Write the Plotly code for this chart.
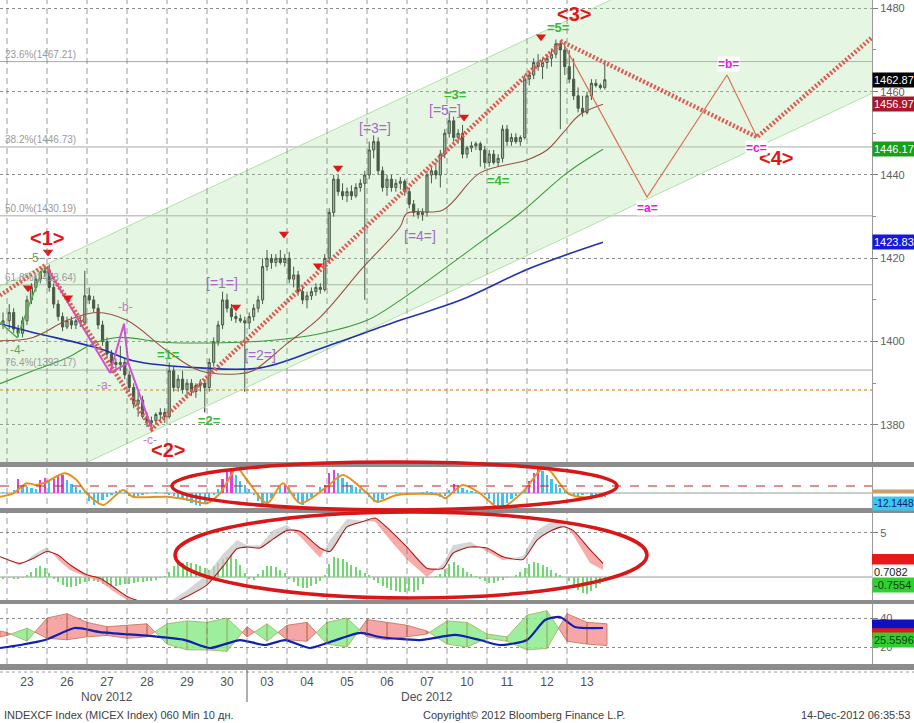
import plotly.graph_objects as go

W, H = 914, 723
MR, MB = 42, 53
PW, PH = W - MR, H - MB  # plot area 872 x 670


def pyp(py):
    return 1 - py / PH


def pxp(px):
    return px / PW


FONT = "Liberation Sans, Arial, sans-serif"

# ---------------- categories / ticks ----------------
day_labels = ["23", "26", "27", "28", "29", "30", "03", "04", "05", "06", "07", "10", "11", "12", "13"]
month_labels = ["Nov 2012", "Dec 2012"]
month_centers = [2.5, 10.5]
BPD = 9
x_range = [-0.175, 21.625]

# ---------------- hourly OHLC (first bar = last bar of 22 Nov) ----------------
o = [1404,
     1405, 1407, 1403, 1402, 1405, 1410, 1413, 1415, 1416.5,
     1417, 1413, 1409, 1406, 1403.5, 1405, 1404, 1405, 1404.5,
     1411, 1410, 1408, 1404, 1400, 1397, 1395, 1394.5, 1395,
     1392, 1389, 1385, 1386, 1382, 1380.5, 1381, 1382.5, 1383,
     1382, 1393, 1389, 1391, 1388.5, 1390, 1388, 1389.5, 1390,
     1389, 1395, 1400, 1404, 1410, 1408, 1406, 1405.5, 1405,
     1404.5, 1406, 1408, 1410, 1418, 1420, 1419, 1420, 1419,
     1420, 1415, 1416, 1412, 1410, 1411, 1412, 1413, 1412.5,
     1420, 1431, 1439, 1436, 1435, 1436, 1435, 1437, 1438,
     1440, 1446, 1448, 1441, 1437, 1439, 1437, 1438, 1438.5,
     1436, 1433, 1431, 1430.5, 1431, 1440, 1441, 1440, 1445,
     1450, 1453, 1449, 1450, 1445, 1446.5, 1447, 1447.5, 1446,
     1443, 1445, 1443, 1444, 1451, 1448, 1449, 1448, 1449,
     1463, 1464, 1467, 1466, 1467, 1468, 1469, 1471.5, 1470,
     1466, 1463, 1459, 1456, 1455, 1459, 1462, 1461.5, 1461]
h = [1407,
     1409, 1408, 1404, 1406, 1411, 1414, 1416, 1417, 1418,
     1418.5, 1414, 1410, 1407, 1406, 1406, 1405.5, 1406, 1417,
     1413, 1411, 1409, 1405, 1401, 1398, 1396, 1399, 1396,
     1393, 1390, 1388, 1387, 1383, 1382, 1383, 1384, 1384,
     1395, 1394, 1392, 1393, 1391, 1391, 1390, 1391, 1391,
     1396, 1401, 1405, 1412, 1411.5, 1409, 1407, 1406.5, 1406,
     1407, 1409, 1411, 1420, 1422, 1421, 1421, 1422, 1421,
     1421.5, 1418, 1417, 1413, 1412, 1413, 1414, 1414, 1421,
     1432, 1440, 1440, 1438, 1437, 1437.5, 1438, 1439, 1441,
     1448, 1449.5, 1449, 1442, 1440, 1440, 1439, 1439.5, 1439,
     1437, 1434, 1432, 1432, 1441, 1442, 1443, 1446, 1451,
     1455, 1454, 1451, 1452, 1447, 1448, 1448, 1448, 1447,
     1446, 1446, 1445, 1452, 1452, 1450, 1450, 1449.5, 1464,
     1465, 1468, 1469, 1468, 1469, 1470, 1472.5, 1472, 1471.5,
     1470, 1468, 1461, 1459, 1460, 1463, 1463, 1462, 1467]
l = [1403,
     1403, 1402, 1401, 1401, 1404, 1409, 1412, 1414, 1415.5,
     1412, 1408, 1405, 1402.5, 1403, 1403, 1403, 1403.5, 1404,
     1409, 1407, 1403, 1399, 1396, 1393.5, 1393.5, 1393, 1391,
     1388, 1384, 1382, 1381.5, 1379.5, 1379, 1380, 1381, 1380.5,
     1381.5, 1388, 1388, 1387.5, 1387, 1387, 1386.5, 1388, 1383,
     1388, 1394, 1399, 1403, 1407, 1405, 1404.5, 1404.5, 1388,
     1403, 1405, 1407, 1409, 1417, 1417.5, 1418, 1418.5, 1418,
     1414, 1413, 1411, 1409, 1408, 1410, 1411, 1411.5, 1412,
     1419, 1430, 1435, 1434, 1433.5, 1434, 1434.5, 1436, 1410,
     1439, 1444, 1440, 1436, 1435, 1436, 1436, 1436.5, 1435,
     1432, 1430, 1429.5, 1429, 1430, 1438, 1439, 1437, 1444,
     1449, 1448, 1447.5, 1444, 1444, 1445.5, 1446, 1442, 1441.5,
     1442, 1442.5, 1442, 1443, 1447, 1447, 1447.5, 1447, 1448.5,
     1461.5, 1463, 1465, 1463, 1465.5, 1466, 1468, 1451, 1464,
     1462, 1458, 1455, 1454, 1454.5, 1458, 1461, 1460.5, 1460.5]
c = [1405,
     1407, 1403, 1402, 1405, 1410, 1413, 1415, 1416.5, 1417,
     1413, 1409, 1406, 1403.5, 1405, 1404, 1405, 1404.5, 1411,
     1410, 1408, 1404, 1400, 1397, 1395, 1394.5, 1395, 1392,
     1389, 1385, 1386, 1382, 1380.5, 1381, 1382.5, 1383, 1382,
     1393, 1389, 1391, 1388.5, 1390, 1388, 1389.5, 1390, 1389,
     1395, 1400, 1404, 1410, 1408, 1406, 1405.5, 1405, 1404.5,
     1406, 1408, 1410, 1418, 1420, 1419, 1420, 1419, 1420,
     1415, 1416, 1412, 1410, 1411, 1412, 1413, 1412.5, 1420,
     1431, 1439, 1436, 1435, 1436, 1435, 1437, 1438, 1440,
     1446, 1448, 1441, 1437, 1439, 1437, 1438, 1438.5, 1436,
     1433, 1431, 1430.5, 1431, 1440, 1441, 1440, 1445, 1450,
     1453, 1449, 1450, 1445, 1446.5, 1447, 1447.5, 1446, 1443,
     1445, 1443, 1444, 1451, 1448, 1449, 1448, 1449, 1463,
     1464, 1467, 1466, 1467, 1468, 1469, 1471.5, 1470, 1466,
     1463, 1459, 1456, 1455, 1459, 1462, 1461.5, 1461, 1462.87]

# ---------------- moving averages (read at turning points) ----------------
ma_brown_x = [-0.175, 0.65, 1.5, 2.25, 3.0, 4.0, 4.825, 5.825, 6.15, 7.0, 7.825, 8.9, 9.825, 10.0, 10.9, 11.825, 13.0, 13.5, 13.9, 14.325, 14.9]
ma_brown_y = [1400.2, 1401.0, 1405.1, 1407.0, 1405.1, 1397.8, 1393.0, 1392.3, 1393.0, 1399.5, 1405.8, 1417.8, 1427.5, 1430.8, 1431.6, 1440.5, 1443.6, 1446.0, 1450.1, 1454.5, 1456.97]
ma_green_x = [-0.175, 0.65, 1.5, 2.15, 2.75, 4.0, 5.65, 6.5, 7.825, 9.0, 9.825, 11.9, 12.825, 14.0, 14.9]
ma_green_y = [1389.9, 1393.0, 1396.1, 1399.5, 1401.0, 1399.8, 1399.8, 1400.2, 1401.9, 1405.1, 1409.9, 1424.3, 1430.8, 1440.5, 1446.17]
ma_blue_x = [-0.175, 0.65, 2.325, 3.15, 4.825, 6.325, 7.825, 9.825, 11.325, 13.075, 14.9]
ma_blue_y = [1404.3, 1402.2, 1398.3, 1395.4, 1393.7, 1393.7, 1398.3, 1405.1, 1409.9, 1417.6, 1423.83]

# trend channel
chan_x = [-0.175, 21.625]
chan_upper = [1413.3, 1511.4]
chan_lower = [1361.2, 1459.6]

# Fibonacci retracement levels
fib_pct = ["23.6%", "38.2%", "50.0%", "61.8%", "76.4%"]
fib_lvl = [1467.21, 1446.73, 1430.19, 1413.64, 1393.17]
support_lvl = 1388.4

# Elliott wave paths
ew_x = [-0.175, 0.95, 3.625, 13.875, 18.75, 21.625]
ew_y = [1411.1, 1418.3, 1379.0, 1472.0, 1449.1, 1473.0]
proj_x = [13.95, 16.0, 18.0, 18.75]
proj_y = [1470.8, 1434.7, 1464.0, 1449.1]
mag_x = [1.0, 2.575, 2.925, 3.03, 3.625, None, 2.575, 3.03]
mag_y = [1417.8, 1392.5, 1404.3, 1394.9, 1379.0, None, 1392.5, 1394.9]
gw_x = [-0.175, 0.25, 0.9]
gw_y = [1404.6, 1401.0, 1417.6]

# sell-signal markers
sig_x = [0.525, 1.025, 1.525, 5.725, 6.925, 7.775, 8.275, 11.425, 13.35]
sig_y = [1412.9, 1421.5, 1410.5, 1408.3, 1425.8, 1418.2, 1441.7, 1453.9, 1473.2]

# wave labels
big_txt = ["<1>", "<2>", "<3>", "<4>"]
big_x = [1.0, 4.025, 14.175, 19.225]
big_y = [1424.9, 1374.0, 1478.7, 1444.1]
grn_txt = ["=1=", "=2=", "=3=", "=4=", "=5="]
grn_x = [4.025, 5.05, 11.2, 12.275, 13.775]
grn_y = [1396.8, 1381.0, 1459.2, 1438.6, 1475.3]
pur_txt = ["[=1=]", "[=2=]", "[=3=]", "[=4=]", "[=5=]"]
pur_x = [5.375, 6.325, 9.2, 10.325, 10.95]
pur_y = [1414.1, 1396.8, 1451.3, 1425.4, 1455.6]
abc_txt = ["=a=", "=b=", "=c="]
abc_x = [16.0, 18.025, 18.725]
abc_y = [1432.1, 1466.7, 1446.5]
sml_txt = ["-a-", "-b-", "-c-"]
sml_x = [2.425, 2.95, 3.575]
sml_y = [1389.6, 1408.3, 1376.4]
g45_txt = ["-5-", "-4-"]
g45_x = [0.7, 0.25]
g45_y = [1420.1, 1398.0]

# ---------------- panel 2 oscillator ----------------
osc_hist = [1,
            0, 3, 14, 8, 6, 5, 4, 13, 15,
            12, 14, 17, 18, 13, 9, 6, 3, 1,
            -8, -12, -10, -7, -4, -2, 2, 3, 1,
            -3, -5, -3, -2, -1, 0, 1, 0, -1,
            -2, -3, -4, -6, -8, -10, -12, -13, -10,
            -6, -2, 4, 14, 21, 23, 18, 12, 8,
            4, -2, -8, -12, -10, -5, 2, 7, 9,
            6, -3, -10, -12, -8, -4, 0, 6, 8,
            20, 23, 20, 15, 11, 8, 6, 4, 2,
            -4, -9, -10, -6, -2, 0, 1, -1, 0,
            0, -1, 0, 1, 2, 1, -2, -4, -3,
            3, 9, 8, 5, 3, 2, 1, 0, -2,
            -6, -11, -15, -14, -10, -6, -3, 0, 3,
            12, 20, 24, 22, 18, 14, 9, 5, 2,
            -2, -3, -4, -2, -1, -3, -2, -3, -4]
osc_line_x = [-0.175, 0.16, 0.49, 0.74, 0.99, 1.45, 1.74, 1.99, 2.4, 2.9, 3.15, 4.0, 4.575, 5.0, 5.325, 5.75, 6.0, 6.5, 6.9, 7.325, 8.0, 8.4, 9.0, 9.25, 9.75, 10.825, 10.95, 11.4, 11.825, 12.325, 12.9, 13.45, 14.025, 14.4, 14.9]
osc_line_y = [-3.7, -0.3, 9.7, 8, 11.3, 19.7, 13, -0.3, -12, 3, -3.7, -3.7, -7, -10.3, -0.3, 24.7, 13, -10.3, 9.7, -10.3, 6.3, 18, -0.3, -8.7, -2, -2, -5.3, 8, -0.3, -15.3, 1.3, 25.7, -0.3, -4.3, -3]
osc_level = 7

# ---------------- panel 3 MACD ----------------
macd_x = [-0.175, 0.325, 0.65, 1.0, 1.275, 1.575, 2.0, 2.325, 2.65, 3.0, 3.5, 4.0, 4.5, 5.0, 5.4, 5.75, 6.0, 6.325, 6.65, 7.0, 7.325, 7.825, 8.075, 8.5, 8.9, 9.2, 9.575, 10.0, 10.5, 10.9, 11.15, 11.575, 12.0, 12.4, 12.9, 13.25, 13.575, 13.9, 14.15, 14.575, 14.9]
macd_sig = [2.3, 1.55, 2.1, 2.9, 2.5, 1.4, 0.25, -0.15, -1.1, -2.2, -3.0, -3.2, -2.2, -0.9, 1.2, 3.2, 3.4, 3.3, 4.3, 5.3, 5.2, 3.3, 2.9, 5.7, 6.3, 6.7, 5.3, 3.4, 1.0, 1.0, 2.7, 3.4, 3.3, 2.3, 2.0, 4.2, 5.2, 5.7, 5.3, 3.1, 1.55]
macd_fast = [2.3, 1.3, 2.5, 3.4, 2.0, 0.8, 0.0, -0.5, -1.6, -2.6, -3.4, -3.0, -1.5, 0.3, 2.6, 4.2, 3.6, 3.6, 5.3, 5.9, 4.6, 2.2, 4.2, 6.6, 6.4, 6.3, 4.2, 2.0, 0.0, 1.5, 3.6, 4.0, 2.9, 1.9, 2.4, 5.3, 6.2, 6.2, 4.8, 1.6, 0.8]
macd_hist = [-0.2,
             -0.1, -0.2, -0.2, -0.1, 0.2, 0.6, 1.0, 1.2, 1.0,
             0.4, -0.2, -0.6, -0.9, -1.1, -1.1, -1.0, -0.8, -0.6,
             -0.5, -0.4, -0.6, -0.8, -1.0, -1.1, -1.0, -0.9, -0.8,
             -0.8, -0.7, -0.6, -0.6, -0.5, -0.4, -0.3, -0.1, 0.1,
             0.6, 1.2, 1.5, 1.6, 1.7, 1.6, 1.5, 1.3, 1.0,
             0.8, 1.2, 1.6, 2.0, 2.3, 2.5, 2.1, 1.4, 0.5,
             -0.2, -0.3, 0.3, 0.8, 1.2, 1.3, 1.1, 0.8, 0.4,
             -0.2, -0.6, -1.0, -1.3, -1.2, -1.0, -0.8, -0.4, 0.2,
             1.5, 2.3, 2.2, 2.0, 1.7, 1.4, 1.1, 0.8, 0.5,
             0.2, -0.3, -0.7, -1.0, -1.3, -1.5, -1.6, -1.7, -1.7,
             -1.6, -1.7, -1.5, -0.8, -0.1, 0.0, 0.1, 0.3, 0.9,
             1.5, 1.7, 1.4, 1.0, 0.6, 0.3, 0.1, -0.2, -0.4,
             -0.7, -0.7, -0.5, -0.3, -0.1, 0.0, 0.2, 0.6, 1.0,
             1.5, 1.7, 1.6, 1.4, 1.1, 0.8, 0.5, 0.2, 0.0,
             -0.5, -1.0, -1.5, -1.8, -1.9, -1.6, -1.2, -0.8, -0.5]

# ---------------- panel 4 DMI ----------------
dmi_x = [-0.175, 0.0, 0.5, 1.0, 1.5, 2.0, 2.5, 3.0, 3.5, 4.0, 4.5, 5.0, 5.5, 6.0, 6.5, 7.0, 7.5, 8.0, 8.5, 9.0, 9.5, 10.0, 10.5, 11.0, 11.5, 12.0, 12.5, 13.0, 13.5, 14.0, 14.5, 15.0]
di_plus = [27, 28, 33, 26, 25, 27, 28, 26, 27, 36, 38, 37, 40, 27, 36, 25, 24, 37, 40, 27, 25, 27, 29, 38, 37, 29, 27, 42, 45, 24, 22, 21]
di_minus = [31, 30, 24, 40, 43, 37, 34, 35, 36, 22, 18, 18, 17, 34, 24, 35, 37, 22, 20, 39, 37, 35, 31, 22, 20, 26, 24, 18, 19, 43, 37, 36]
adx_x = [-0.175, 0.325, 0.95, 1.7, 2.325, 3.575, 4.45, 5.075, 5.825, 6.45, 6.95, 7.575, 8.075, 8.825, 9.325, 10.325, 11.2, 11.825, 12.325, 13.0, 13.45, 13.825, 14.2, 14.9]
adx_y = [19.3, 21.4, 24.8, 33.1, 30.3, 27.6, 24.8, 19.3, 24.8, 21.4, 24.8, 19.3, 23.4, 29.7, 26.9, 24.8, 28.3, 24.8, 21.4, 24.8, 38.6, 40.7, 33.8, 33.1]

# last-value tags
main_tags = [("1462.87", 1462.87, "#000000", "#ffffff"),
             ("1456.97", 1456.97, "#a8182a", "#ffffff"),
             ("1446.17", 1446.17, "#18a018", "#ffffff"),
             ("1423.83", 1423.83, "#1818d8", "#ffffff")]

# ---------------- derived positions ----------------
bar_x = [-0.1] + [d + (k + 0.5) / BPD for d in range(len(day_labels)) for k in range(BPD)]


def split_fill(xs, a, b):
    """polygons between series a and b, split by which one is larger"""
    ux, uy, dx, dy = [], [], [], []
    for i in range(len(xs) - 1):
        x0, x1 = xs[i], xs[i + 1]
        a0, a1, b0, b1 = a[i], a[i + 1], b[i], b[i + 1]
        d0, d1 = a0 - b0, a1 - b1
        parts = []
        if d0 * d1 < 0:
            t = d0 / (d0 - d1)
            xm = x0 + t * (x1 - x0)
            ym = a0 + t * (a1 - a0)
            parts.append((x0, a0, b0, xm, ym, ym, d0))
            parts.append((xm, ym, ym, x1, a1, b1, d1))
        else:
            parts.append((x0, a0, b0, x1, a1, b1, d0 + d1))
        for (p0, pa0, pb0, p1, pa1, pb1, s) in parts:
            px = [p0, p1, p1, p0, p0, None]
            py = [pa0, pa1, pb1, pb0, pa0, None]
            if s >= 0:
                ux += px
                uy += py
            else:
                dx += px
                dy += py
    return ux, uy, dx, dy


fig = go.Figure()

# ---- main panel ----
fig.add_trace(go.Scatter(x=chan_x, y=chan_lower, mode="lines", line=dict(color="#b0e2a8", width=1),
                         xaxis="x", yaxis="y", hoverinfo="skip"))
fig.add_trace(go.Scatter(x=chan_x, y=chan_upper, mode="lines", line=dict(color="#b0e2a8", width=1),
                         fill="tonexty", fillcolor="rgba(170,230,160,0.30)",
                         xaxis="x", yaxis="y", hoverinfo="skip"))
fig.add_trace(go.Scatter(x=ma_blue_x, y=ma_blue_y, mode="lines", line=dict(color="#2030b0", width=1.6, shape="spline"),
                         xaxis="x", yaxis="y"))
fig.add_trace(go.Scatter(x=ma_green_x, y=ma_green_y, mode="lines", line=dict(color="#3a9a3a", width=1.1, shape="spline"),
                         xaxis="x", yaxis="y"))
fig.add_trace(go.Scatter(x=ma_brown_x, y=ma_brown_y, mode="lines", line=dict(color="#9a5040", width=1.1, shape="spline"),
                         xaxis="x", yaxis="y"))
fig.add_trace(go.Candlestick(x=bar_x, open=o, high=h, low=l, close=c, xaxis="x", yaxis="y",
                             increasing=dict(line=dict(color="#202020", width=1), fillcolor="#a8a8a8"),
                             decreasing=dict(line=dict(color="#202020", width=1), fillcolor="#202020"),
                             whiskerwidth=0))
fig.add_trace(go.Scatter(x=proj_x, y=proj_y, mode="lines", line=dict(color="#e07058", width=1.2),
                         xaxis="x", yaxis="y"))
fig.add_trace(go.Scatter(x=gw_x, y=gw_y, mode="lines", line=dict(color="#50b050", width=1.5),
                         xaxis="x", yaxis="y"))
fig.add_trace(go.Scatter(x=mag_x, y=mag_y, mode="lines", line=dict(color="#d050d8", width=2),
                         xaxis="x", yaxis="y"))
fig.add_trace(go.Scatter(x=ew_x, y=ew_y, mode="lines", line=dict(color="#e05850", width=4.5, dash="2px,2px"),
                         xaxis="x", yaxis="y"))
fig.add_trace(go.Scatter(x=sig_x, y=sig_y, mode="markers",
                         marker=dict(symbol="triangle-down", size=9, color="#e01818"),
                         xaxis="x", yaxis="y"))

# ---- panel 2 ----
osc_col = []
for i, v in enumerate(osc_hist):
    prev = osc_hist[i - 1] if i > 0 else v
    osc_col.append("#e040e0" if (v > osc_level and v >= prev) else "#3cc4f0")
fig.add_trace(go.Bar(x=bar_x, y=osc_hist, width=0.055, marker=dict(color=osc_col, line=dict(width=0)),
                     xaxis="x2", yaxis="y2"))
fig.add_trace(go.Scatter(x=osc_line_x, y=osc_line_y, mode="lines",
                         line=dict(color="#e8921e", width=2, shape="spline", smoothing=0.8),
                         xaxis="x2", yaxis="y2"))

# ---- panel 3 ----
ux, uy, dx, dy = split_fill(macd_x, macd_fast, macd_sig)
fig.add_trace(go.Bar(x=bar_x, y=macd_hist, width=0.05, marker=dict(color="#70d870", line=dict(width=0)),
                     xaxis="x3", yaxis="y3"))
fig.add_trace(go.Scatter(x=ux, y=uy, mode="lines", fill="toself", fillcolor="rgba(200,200,200,0.75)",
                         line=dict(width=0, color="rgba(0,0,0,0)"), xaxis="x3", yaxis="y3", hoverinfo="skip"))
fig.add_trace(go.Scatter(x=dx, y=dy, mode="lines", fill="toself", fillcolor="rgba(245,150,150,0.8)",
                         line=dict(width=0, color="rgba(0,0,0,0)"), xaxis="x3", yaxis="y3", hoverinfo="skip"))
fig.add_trace(go.Scatter(x=macd_x, y=macd_sig, mode="lines", line=dict(color="#b01818", width=1.1, shape="spline", smoothing=0.6),
                         xaxis="x3", yaxis="y3"))

# ---- panel 4 ----
gx, gy, px_, py_ = split_fill(dmi_x, di_plus, di_minus)
fig.add_trace(go.Scatter(x=gx, y=gy, mode="lines", fill="toself", fillcolor="rgba(140,235,140,0.85)",
                         line=dict(width=0.8, color="#a0b060"), xaxis="x4", yaxis="y4", hoverinfo="skip"))
fig.add_trace(go.Scatter(x=px_, y=py_, mode="lines", fill="toself", fillcolor="rgba(245,150,150,0.85)",
                         line=dict(width=0.8, color="#c07050"), xaxis="x4", yaxis="y4", hoverinfo="skip"))
fig.add_trace(go.Scatter(x=adx_x, y=adx_y, mode="lines", line=dict(color="#1020b0", width=2.2, shape="spline", smoothing=0.6),
                         xaxis="x4", yaxis="y4"))

# ---------------- layout ----------------
D1 = [pyp(462), 1]
D2 = [pyp(508), pyp(467)]
D3 = [pyp(600), pyp(513)]
D4 = [pyp(664), pyp(604)]

axcommon = dict(range=x_range, showgrid=False, zeroline=False, showline=False, fixedrange=True)
yfont = dict(family=FONT, size=11, color="#606060")

fig.update_layout(
    width=W, height=H, margin=dict(l=0, r=MR, t=0, b=MB),
    paper_bgcolor="white", plot_bgcolor="rgba(0,0,0,0)", showlegend=False,
    font=dict(family=FONT), bargap=0,
    xaxis=dict(domain=[0, 1], anchor="y", showticklabels=False, rangeslider=dict(visible=False), **axcommon),
    xaxis2=dict(domain=[0, 1], anchor="y2", matches="x", showticklabels=False, **axcommon),
    xaxis3=dict(domain=[0, 1], anchor="y3", matches="x", showticklabels=False, **axcommon),
    xaxis4=dict(domain=[0, 1], anchor="y4", matches="x", ticks="",
                tickmode="array", tickvals=[d + 0.5 for d in range(len(day_labels))], ticktext=day_labels,
                tickfont=dict(family=FONT, size=12, color="#505050"), ticklabelstandoff=9, **axcommon),
    yaxis=dict(domain=D1, anchor="x", side="right", range=[1371.1, 1482.0], tickmode="linear", tick0=1380, dtick=20,
               showgrid=True, griddash="dot", gridcolor="#8c8c8c", gridwidth=1, zeroline=False,
               ticks="outside", ticklen=5, tickcolor="#808080", showline=True, linecolor="#9a9a9a",
               minor=dict(dtick=10, ticks="outside", ticklen=3, tickcolor="#909090", showgrid=False),
               tickfont=yfont, fixedrange=True, automargin=False),
    yaxis2=dict(domain=D2, anchor="x2", side="right", range=[-15, 26], showticklabels=False, showgrid=False,
                zeroline=False, showline=True, linecolor="#9a9a9a", fixedrange=True, automargin=False),
    yaxis3=dict(domain=D3, anchor="x3", side="right", range=[-2.61, 7.27], tickmode="array", tickvals=[5],
                showgrid=True, griddash="dot", gridcolor="#8c8c8c", zeroline=False, ticks="outside", ticklen=5,
                tickcolor="#808080", showline=True, linecolor="#9a9a9a", tickfont=yfont, fixedrange=True,
                automargin=False),
    yaxis4=dict(domain=D4, anchor="x4", side="right", range=[8.28, 49.66], tickmode="array", tickvals=[20, 40],
                showgrid=True, griddash="dot", gridcolor="#8c8c8c", zeroline=False, ticks="outside", ticklen=5,
                tickcolor="#808080", showline=True, linecolor="#9a9a9a", tickfont=yfont, fixedrange=True,
                automargin=False),
)

shapes = []
# day separators (drawn over the fills, like the original terminal chart)
for d in range(len(day_labels)):
    shapes.append(dict(type="line", xref="x", yref="paper", x0=d, x1=d, y0=pyp(664), y1=1,
                       line=dict(color="rgba(120,120,120,0.75)", width=1, dash="6px,4px"), layer="above"))
# fibonacci and support lines
for lv in fib_lvl:
    shapes.append(dict(type="line", xref="paper", yref="y", x0=0, x1=1, y0=lv, y1=lv,
                       line=dict(color="#a8a8a8", width=1), layer="below"))
shapes.append(dict(type="line", xref="paper", yref="y", x0=0, x1=1, y0=support_lvl, y1=support_lvl,
                   line=dict(color="#e8a030", width=1.6, dash="dot"), layer="below"))
# panel 2 lines
shapes.append(dict(type="line", xref="paper", yref="y2", x0=0, x1=1, y0=0, y1=0,
                   line=dict(color="#9a9a9a", width=1), layer="below"))
shapes.append(dict(type="line", xref="paper", yref="y2", x0=0, x1=1, y0=osc_level, y1=osc_level,
                   line=dict(color="#c02020", width=1, dash="dash")))
# panel 3 zero line
shapes.append(dict(type="line", xref="paper", yref="y3", x0=0, x1=1, y0=0, y1=0,
                   line=dict(color="#9a9a9a", width=1), layer="below"))
# separator bars
for (a, b) in [(462, 467), (508, 513), (600, 604), (664, 670)]:
    shapes.append(dict(type="rect", xref="paper", yref="paper", x0=0, x1=W / PW, y0=pyp(b), y1=pyp(a),
                       fillcolor="#8c8c8c", line=dict(width=0)))
shapes.append(dict(type="line", xref="paper", yref="paper", x0=0, x1=W / PW, y0=pyp(672), y1=pyp(672),
                   line=dict(color="#9a9a9a", width=1, dash="dot")))
# month divider in date area
shapes.append(dict(type="line", xref="x4", yref="paper", x0=6, x1=6, y0=pyp(670), y1=pyp(702),
                   line=dict(color="#606060", width=1)))
# highlight ellipses
shapes.append(dict(type="circle", xref="paper", yref="paper", x0=pxp(172), x1=pxp(617), y0=pyp(510), y1=pyp(462),
                   line=dict(color="#d81818", width=3.5)))
shapes.append(dict(type="circle", xref="paper", yref="paper", x0=pxp(175), x1=pxp(647), y0=pyp(598), y1=pyp(512),
                   line=dict(color="#d81818", width=3.5)))
# partially hidden value tags (boxes only)
shapes.append(dict(type="rect", xref="paper", yref="y2", x0=1.0, x1=W / PW, y0=-0.5, y1=3.5,
                   fillcolor="#c8a070", line=dict(width=0)))
shapes.append(dict(type="rect", xref="paper", yref="y3", x0=1.0, x1=W / PW, y0=1.3, y1=2.6,
                   fillcolor="#e81818", line=dict(width=0)))
shapes.append(dict(type="rect", xref="paper", yref="y4", x0=1.0, x1=W / PW, y0=31, y1=39,
                   fillcolor="#1010c0", line=dict(width=0)))
shapes.append(dict(type="rect", xref="paper", yref="y4", x0=1.0, x1=W / PW, y0=26, y1=33,
                   fillcolor="#e01818", line=dict(width=0)))
fig.update_layout(shapes=shapes)

ann = []


def esc(t):
    return t.replace("<", "&lt;").replace(">", "&gt;")


def lab(x, y, text, size, color, **kw):
    d = dict(xref="x", yref="y", x=x, y=y, xanchor="center", yanchor="middle", showarrow=False, text=text,
             font=dict(family=FONT, size=size, color=color))
    d.update(kw)
    return d


for p, lv in zip(fib_pct, fib_lvl):
    ann.append(dict(xref="paper", yref="y", x=0.003, y=lv, xanchor="left", yanchor="bottom", showarrow=False,
                    text=f"{p}({lv:.2f})", font=dict(family=FONT, size=10, color="#9a9a9a")))
for t, x, y in zip(big_txt, big_x, big_y):
    ann.append(lab(x, y, "<b>" + esc(t) + "</b>", 20, "#e01818"))
for t, x, y in zip(grn_txt, grn_x, grn_y):
    ann.append(lab(x, y, "<b>" + t + "</b>", 13, "#3cb83c"))
for t, x, y in zip(pur_txt, pur_x, pur_y):
    ann.append(lab(x, y, t, 14, "#a868c8"))
for t, x, y in zip(abc_txt, abc_x, abc_y):
    ann.append(lab(x, y, "<b>" + t + "</b>", 12, "#e020e0", bgcolor="rgba(255,255,255,0.85)", borderpad=0))
for t, x, y in zip(sml_txt, sml_x, sml_y):
    ann.append(lab(x, y, t, 12, "#c878c8"))
for t, x, y in zip(g45_txt, g45_x, g45_y):
    ann.append(lab(x, y, t, 12, "#60a860"))


def tag(yref, v, text, bg, fg, size=11):
    return dict(xref="paper", yref=yref, x=1.0, y=v, xanchor="left", yanchor="middle", showarrow=False,
                text=text, bgcolor=bg, font=dict(family=FONT, size=size, color=fg), borderpad=1, width=40,
                align="left")


for t, v, bg, fg in main_tags:
    ann.append(tag("y", v, t, bg, fg))
ann.append(tag("y2", -10, "-12.1448", "#38c8f0", "#102070", size=10))
ann.append(tag("y3", 0.57, "0.7082", "#ffffff", "#202020"))
ann.append(tag("y3", -0.9, "-0.7554", "#30d030", "#104010"))
ann.append(tag("y4", 24.8, "25.5596", "#30d030", "#104010"))

# month labels & footer
for t, x in zip(month_labels, month_centers):
    ann.append(dict(xref="x4", yref="paper", x=x, y=pyp(697), xanchor="center", yanchor="middle", showarrow=False,
                    text=t, font=dict(family=FONT, size=12, color="#505050")))
foot = dict(yref="paper", xref="paper", y=pyp(715), yanchor="middle", showarrow=False,
            font=dict(family=FONT, size=11, color="#404040"))
ann.append(dict(foot, x=pxp(2), xanchor="left", text="INDEXCF Index (MICEX Index) 060 Min 10 дн."))
ann.append(dict(foot, x=pxp(421), xanchor="left", text="Copyright© 2012 Bloomberg Finance L.P."))
ann.append(dict(foot, x=912 / PW, xanchor="right", text="14-Dec-2012 06:35:53"))
fig.update_layout(annotations=ann)

fig.write_html("out.html", config={"displayModeBar": False, "staticPlot": True},
               post_script="document.body.style.margin='0';document.body.style.padding='0';"
                           "document.body.style.overflow='hidden';")
